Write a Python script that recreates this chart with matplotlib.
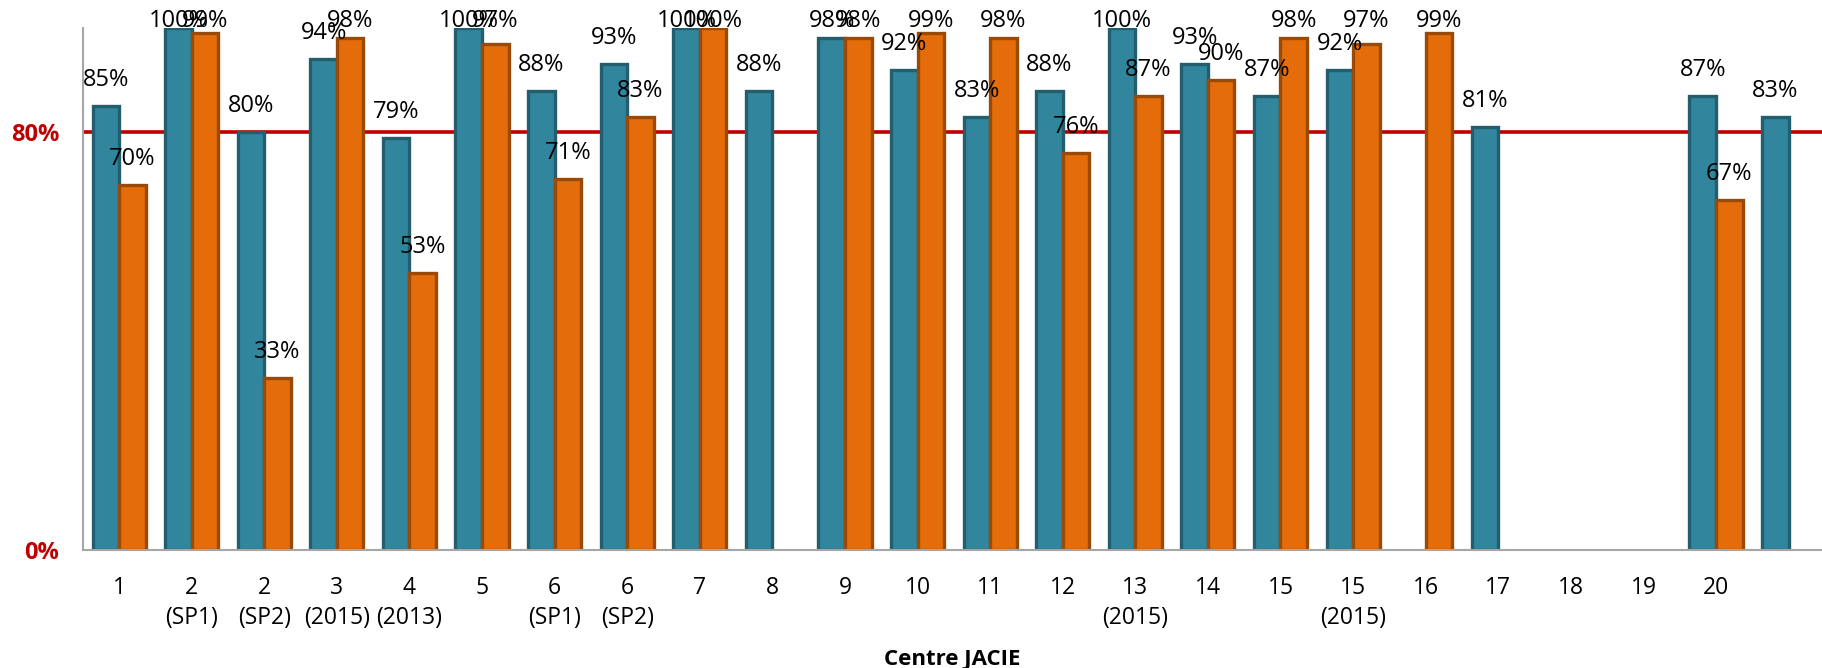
import numpy as np
import matplotlib
matplotlib.use("Agg")
import matplotlib.pyplot as plt

plt.rcParams['font.family'] = ['Open Sans', 'DejaVu Sans']

centres = ["1", "2\n(SP1)", "2\n(SP2)", "3\n(2015)", "4\n(2013)", "5", "6\n(SP1)",
           "6\n(SP2)", "7", "8", "9", "10", "11", "12", "13\n(2015)", "14", "15",
           "15\n(2015)", "16", "17", "18", "19", "20", ""]
serie_a = [85, 100, 80, 94, 79, 100, 88, 93, 100, 88, 98, 92, 83, 88, 100, 93, 87, 92,
           np.nan, 81, np.nan, np.nan, 87, 83]
serie_b = [70, 99, 33, 98, 53, 97, 71, 83, 100, np.nan, 98, 99, 98, 76, 87, 90, 98, 97,
           99, np.nan, np.nan, np.nan, 67, np.nan]
seuil = 80

a = np.array(serie_a) / 100
b = np.array(serie_b) / 100
x = np.arange(len(centres))
w = 0.366

fig = plt.figure(figsize=(18.22, 6.68), dpi=100)
ax = fig.add_axes([0.0456, 0.1766, 0.9544, 0.7816])

ax.axhline(seuil / 100, color='#C00000', lw=2.6, zorder=1)
ax.bar(x - w / 2, a, w, color='#31859C', edgecolor='#235E6E', lw=2.4, zorder=2)
ax.bar(x + w / 2, b, w, color='#E46C0A', edgecolor='#9A4A08', lw=2.4, zorder=2)

# labels sit ~26px above the bar, but like excel they stay inside the chart area
px = 522.0
for xs, vals in ((x - w / 2, a), (x + w / 2, b)):
    for xi, v in zip(xs, vals):
        if np.isfinite(v):
            ty = min(v + 26 / px, 1 + 7 / px)
            ax.text(xi, ty, f"{v*100:.0f}%", ha='center', va='center', fontsize=17,
                    color='black', zorder=3, clip_on=False)

ax.set_xlim(-0.496, 23.46)
ax.set_ylim(0, 1.0)
ax.set_xticks(x)
ax.set_xticklabels(centres, fontsize=16.5, linespacing=1.3)
ax.set_yticks([0, seuil / 100])
ax.set_yticklabels(['0%', f'{seuil}%'], fontsize=17, color='#C00000', fontweight='bold')
ax.tick_params(axis='x', length=0, pad=19)
ax.tick_params(axis='y', length=0, pad=17)

for s in ('top', 'right'):
    ax.spines[s].set_visible(False)
for s in ('left', 'bottom'):
    ax.spines[s].set_color('#A6A6A6')
    ax.spines[s].set_linewidth(1.5)

ax.set_xlabel('Centre JACIE', fontsize=16, fontweight='bold', labelpad=14)

fig.savefig('out.png', dpi=100)
